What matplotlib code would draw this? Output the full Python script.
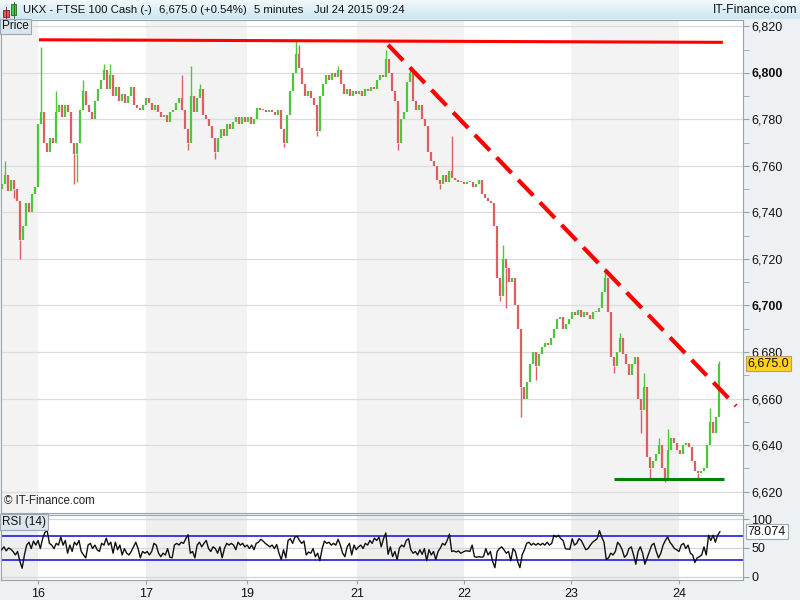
import numpy as np
import matplotlib
matplotlib.use("Agg")
import matplotlib.pyplot as plt
import matplotlib.transforms as mtransforms
from matplotlib.patches import Rectangle
from matplotlib.colors import LinearSegmentedColormap

plt.rcParams['font.family'] = ['Liberation Sans', 'DejaVu Sans']

# 5 minute closes, UKX Jul 16 - Jul 24 2015 (one value per plotted candle)
closes = [
    6752, 6756, 6749, 6754, 6750, 6745, 6728, 6734, 6744, 6740,
    6748, 6751, 6778, 6783, 6770, 6766, 6772, 6770, 6783, 6786,
    6781, 6786, 6783, 6770, 6765, 6770, 6784, 6792, 6786, 6783,
    6780, 6788, 6793, 6797, 6801, 6793, 6799, 6790, 6794, 6788,
    6791, 6787, 6790, 6794, 6786, 6785, 6784, 6786, 6789, 6787,
    6784, 6786, 6783, 6781, 6782, 6779, 6783, 6784, 6787, 6789,
    6784, 6776, 6770, 6790, 6783, 6789, 6793, 6782, 6780, 6777,
    6772, 6766, 6772, 6776, 6773, 6778, 6776, 6779, 6781, 6778,
    6781, 6779, 6781, 6778, 6780, 6785, 6784, 6784, 6783, 6784,
    6783, 6782, 6784, 6776, 6770, 6782, 6792, 6800, 6808, 6802,
    6795, 6790, 6792, 6789, 6786, 6775, 6790, 6795, 6799, 6797,
    6800, 6798, 6801, 6795, 6791, 6793, 6790, 6792, 6791, 6792,
    6790, 6793, 6792, 6794, 6793, 6797, 6799, 6798, 6806, 6800,
    6792, 6788, 6770, 6780, 6783, 6796, 6800, 6788, 6784, 6786,
    6780, 6777, 6766, 6762, 6760, 6754, 6752, 6756, 6753, 6758,
    6755, 6754, 6753, 6753, 6752, 6753, 6753, 6751, 6752, 6754,
    6748, 6746, 6745, 6744, 6734, 6712, 6704, 6720, 6716, 6710,
    6712, 6700, 6690, 6665, 6660, 6667, 6675, 6680, 6674, 6679,
    6682, 6684, 6683, 6686, 6690, 6694, 6695, 6690, 6692, 6694,
    6697, 6696, 6698, 6695, 6697, 6696, 6694, 6697, 6697, 6699,
    6706, 6712, 6697, 6678, 6674, 6680, 6686, 6679, 6675, 6670,
    6675, 6678, 6660, 6655, 6665, 6635, 6630, 6633, 6636, 6640,
    6630, 6626, 6638, 6643, 6641, 6638, 6636, 6640, 6641, 6639,
    6633, 6629, 6628, 6629, 6630, 6640, 6650, 6645, 6652, 6675,
]
first_open = 6750

# candles with a long wick: candle index and wick tip price
spike_idx = [1, 4, 6, 13, 18, 24, 25, 27, 34, 36, 60, 62, 63, 66, 71,
             94, 98, 99, 105, 112, 128, 132, 136, 146, 150, 166, 167, 168,
             173, 178, 201, 204, 206, 213, 214, 216, 219, 221, 222, 232,
             236, 239]
spike_price = [6762, 6746, 6720, 6811, 6792, 6752, 6753, 6797, 6804, 6804,
               6799, 6767, 6803, 6795, 6763, 6768, 6814, 6812, 6773, 6803,
               6810, 6767, 6802, 6750, 6773, 6702, 6726, 6699, 6652, 6668,
               6716, 6671, 6688, 6645, 6671, 6626, 6643, 6624, 6647, 6626,
               6656, 6676]

# RSI(14) values, first to last candle
rsi = [
    47, 52, 45, 50, 48, 44, 38, 44, 27, 15, 38, 55, 60, 49, 62, 55, 63, 49, 66, 77,
    80, 58, 55, 49, 58, 55, 69, 55, 63, 41, 55, 44, 60, 55, 63, 44, 38, 33, 55, 58,
    49, 55, 47, 44, 58, 55, 67, 55, 60, 41, 60, 47, 55, 38, 49, 41, 38, 44, 52, 60,
    49, 33, 44, 41, 44, 38, 44, 58, 55, 41, 35, 41, 38, 49, 34, 33, 55, 58, 55, 60,
    58, 66, 73, 41, 44, 33, 55, 60, 52, 58, 63, 49, 44, 52, 49, 41, 52, 33, 49, 58,
    55, 58, 55, 47, 60, 55, 58, 52,
    55, 49, 55, 47, 58, 60, 65, 62, 58, 55, 52, 55, 49, 56, 41, 30, 47, 33, 63, 66,
    58, 69, 70, 63, 58, 62, 38, 43, 41, 49, 35, 41, 28, 49, 62, 58, 60, 55, 58, 55,
    65, 55, 41, 35, 52, 58, 38, 55, 47, 52, 55, 49, 58, 55, 63, 58, 67, 63, 69, 52,
    66, 76, 39, 52, 35, 44, 30, 50, 55, 52, 63, 66, 47, 41, 44, 38, 47, 39, 49, 28,
    47, 38, 44, 30, 44, 50, 58, 55, 63, 74, 44, 45, 43, 45, 41, 43, 45, 45, 44, 55,
    35, 34, 35, 34, 35,
    49, 38, 44, 27, 16, 44, 49, 52, 47, 41, 44, 28, 49, 44, 27, 16, 38, 47, 58, 60,
    55, 58, 55, 58, 55, 58, 55, 60, 55, 58, 72, 69, 72, 66, 63, 49, 48, 48, 66, 55,
    58, 66, 63, 55, 47, 49, 55, 60, 63, 66, 80, 69, 60, 30, 33, 41, 38, 44, 60, 55,
    47, 34, 38, 49, 52, 38, 22, 44, 52, 41, 22, 33, 44, 55, 58, 44, 33, 41, 55, 63,
    69, 60, 55, 49, 47, 44, 55, 58, 49, 55, 41, 38, 25, 33, 35, 38, 52, 38, 72, 63,
    72, 60, 72, 78.074,
]

# day starts (candle index) and labels
day_start = [12, 48, 81.7, 118.3, 154, 189.7, 225.7]
day_labels = ['16', '17', '19', '21', '22', '23', '24']

# drawn trend lines: candle index / price at both ends
res_idx = [12.3, 240.3]
res_price = [6814.2, 6813.1]
down_idx = [128.7, 244.7]
down_price = [6812.0, 6656.8]
sup_idx = [204, 240.7]
sup_price = [6625.3, 6625.3]

last_price = 6675.0
last_rsi = 78.074

up_col = '#4cc83a'
dn_col = '#dc6060'
band_col = '#f3f3f3'
edge = '#97a4ad'

W, H = 800, 600
fig = plt.figure(figsize=(8, 6), dpi=100, facecolor='#eef1f3')


def box(l, t, r, b):
    return [l / W, 1 - b / H, (r - l) / W, (b - t) / H]


# ---- title bar
tb = fig.add_axes(box(0, 0, 800, 19))
grad = np.linspace(0, 1, 20).reshape(-1, 1)
tb.imshow(grad, extent=[0, 800, 19, 0], aspect='auto',
          cmap=LinearSegmentedColormap.from_list('tb', ['#f0f9fd', '#cde6f1']))
tb.set_xlim(0, 800)
tb.set_ylim(19, 0)
tb.axis('off')
tb.add_patch(Rectangle((3, 10), 6, 7, facecolor='#e05a5a', edgecolor='#7a2020', lw=0.6))
tb.plot([6, 6], [7, 18], color='#7a2020', lw=0.6)
tb.add_patch(Rectangle((11, 4), 5, 11, facecolor='#45c83a', edgecolor='#1d6a16', lw=0.6))
tb.plot([13.5, 13.5], [1.5, 17.5], color='#1d6a16', lw=0.6)
tfont = dict(fontsize=8.2, color='#111111', va='center')
tb.text(23, 10, 'UKX - FTSE 100 Cash (-)', **tfont)
tb.text(159, 10, '6,675.0 (+0.54%)', **tfont)
tb.text(254, 10, '5 minutes', **tfont)
tb.text(314, 10, 'Jul 24 2015 09:24', **tfont)
tb.text(797, 10, 'IT-Finance.com', ha='right', fontsize=8.8, color='#111111', va='center')

# ---- main price panel
ax = fig.add_axes(box(1, 20, 743, 513))
axr = fig.add_axes(box(1, 515, 743, 580), sharex=ax)

n = len(closes)
x = np.arange(n)
xmin, xmax = -0.33, 247.0

for a, col in ((ax, band_col), (axr, '#efefef')):
    a.set_facecolor('white')
    a.axvspan(xmin, day_start[0], color=col, lw=0, zorder=0)
    for k in (1, 3, 5):
        a.axvspan(day_start[k], day_start[k + 1], color=col, lw=0, zorder=0)

opens = [first_open] + closes[:-1]
lo = np.minimum(opens, closes).astype(float)
hi = np.maximum(opens, closes).astype(float)
hi = np.where(hi - lo < 0.6, lo + 0.6, hi)
cols = [up_col if c >= o else dn_col for o, c in zip(opens, closes)]
ax.vlines(x, lo, hi, colors=cols, lw=1.6, zorder=3)
for i, p in zip(spike_idx, spike_price):
    base = lo[i] if p < lo[i] else hi[i]
    ax.vlines(i, min(base, p), max(base, p), colors=cols[i], lw=1.0, zorder=3)

ax.plot(res_idx, res_price, color='#ff0000', lw=2.2, solid_capstyle='butt', zorder=4)
ax.plot(down_idx, down_price, color='#ff0000', lw=3.0, linestyle=(0, (5.2, 2.3)),
        dash_capstyle='butt', zorder=4)
ax.plot(sup_idx, sup_price, color='#008000', lw=2.2, solid_capstyle='butt', zorder=4)

ax.set_xlim(xmin, xmax)
ax.set_ylim(6610.8, 6822.7)
majors = np.arange(6620, 6821, 20)
for p in majors:
    ax.axhline(p, color='#dcdcdc', lw=0.9, zorder=1)
ax.yaxis.tick_right()
ax.set_yticks(majors)
ax.set_yticks(np.arange(6630, 6821, 20), minor=True)
ax.set_yticklabels([f'{int(p):,}' for p in majors])
for lab, p in zip(ax.get_yticklabels(), majors):
    if p in (6800, 6700):
        lab.set_fontweight('bold')
ax.tick_params(axis='y', which='both', direction='out', length=4, color=edge,
               labelsize=9, pad=2, labelcolor='#111111')
ax.tick_params(axis='x', which='both', length=0, labelbottom=False)
for s in ax.spines.values():
    s.set_color(edge)

ax.text(0.0015, 0.999, 'Price', transform=ax.transAxes, va='top', ha='left',
        fontsize=8.5, color='#111111',
        bbox=dict(boxstyle='square,pad=0.15', facecolor='#dbe5ec', edgecolor='#9aa8b2', lw=0.8))
ax.text(0.004, 0.012, '\u00a9 IT-Finance.com', transform=ax.transAxes, va='bottom',
        ha='left', fontsize=8.3, color='#222222')

trans = mtransforms.blended_transform_factory(ax.transAxes, ax.transData)
ax.text(1.0065, last_price, f'{last_price:,.1f}', transform=trans, va='center', ha='left',
        fontsize=9, color='#111111', zorder=6, clip_on=False,
        bbox=dict(boxstyle='square,pad=0.12', facecolor='#ffd21f', edgecolor='#b8a060', lw=0.8))

# ---- RSI panel
rx = np.linspace(-0.1, 239.3, len(rsi))
for lvl in (0, 50, 100):
    axr.axhline(lvl, color='#d6d6d6', lw=0.9, zorder=1)
for lvl in (30, 70):
    axr.axhline(lvl, color='#1c1cd8', lw=1.2, zorder=2)
axr.plot(rx, rsi, color='#111111', lw=1.0, zorder=3)
axr.set_ylim(-5.3, 107)
axr.yaxis.tick_right()
axr.set_yticks([0, 50, 100])
axr.set_yticklabels(['0', '50', '100'])
axr.tick_params(axis='y', direction='out', length=4, color=edge, labelsize=9, pad=2,
                labelcolor='#111111')
axr.set_xticks(day_start)
axr.set_xticklabels(day_labels)
axr.tick_params(axis='x', direction='out', length=3, color=edge, labelsize=9, pad=3,
                labelcolor='#111111')
for s in axr.spines.values():
    s.set_color(edge)
axr.text(0.0015, 0.985, 'RSI (14)', transform=axr.transAxes, va='top', ha='left',
         fontsize=8.5, color='#111111',
         bbox=dict(boxstyle='square,pad=0.15', facecolor='#dbe5ec', edgecolor='#9aa8b2', lw=0.8))
rtrans = mtransforms.blended_transform_factory(axr.transAxes, axr.transData)
axr.text(1.0065, last_rsi, f'{last_rsi:.3f}', transform=rtrans, va='center', ha='left',
         fontsize=9, color='#111111', zorder=6, clip_on=False,
         bbox=dict(boxstyle='square,pad=0.12', facecolor='white', edgecolor='#9aa8b2', lw=0.8))

fig.savefig('out.png', dpi=100, facecolor=fig.get_facecolor())
